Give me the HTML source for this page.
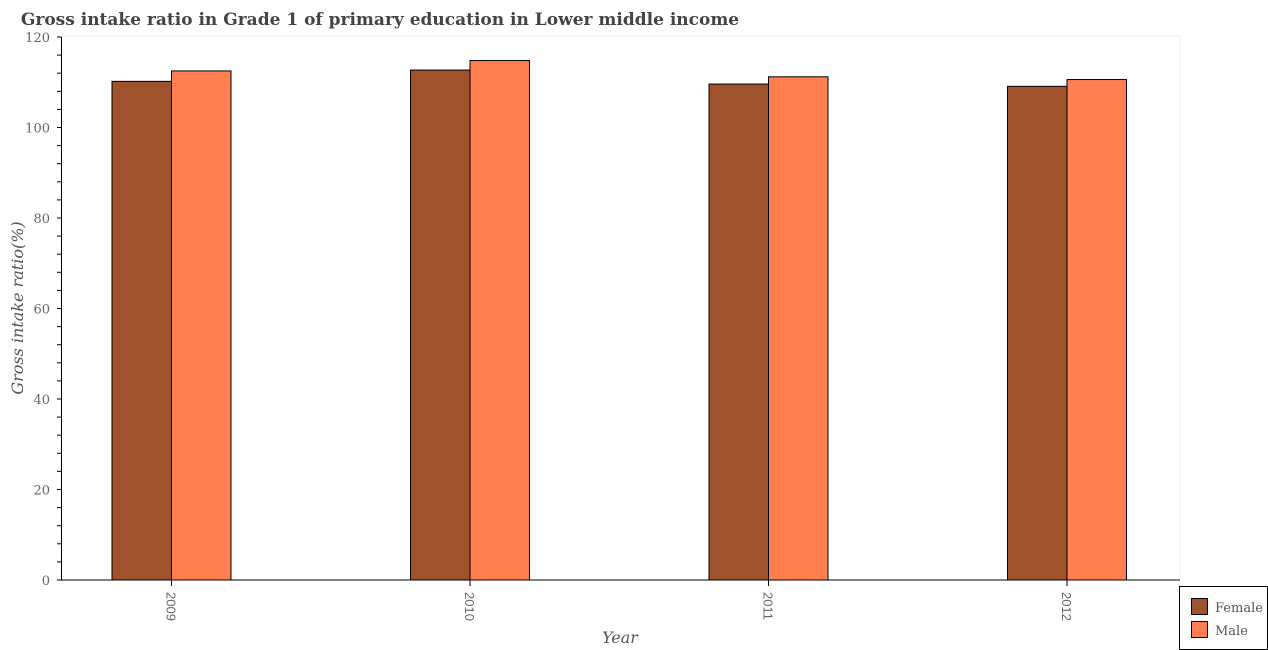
<!DOCTYPE html>
<html><head><meta charset="utf-8"><style>
body{margin:0;background:#fff;}
svg{display:block;font-family:"DejaVu Serif","Liberation Serif",serif;}
</style></head><body>
<svg id="c" width="1268" height="650">
<text x="380" y="25" text-anchor="middle" font-size="17" font-weight="bold" fill="#444">Gross intake ratio in Grade 1 of primary education in Lower middle income</text>
<rect x="61.5" y="36" width="1118.5" height="544" fill="none" stroke="#eee"/>
<g id="bars"></g>
<g id="axes"></g>
<text transform="translate(23,308) rotate(-90)" text-anchor="middle" font-size="16" font-style="italic" fill="#555">Gross intake ratio(%)</text>
<text x="620" y="643" text-anchor="middle" font-size="16" font-style="italic" fill="#555">Year</text>
<g>
<rect x="1179.5" y="586.5" width="88" height="63" fill="#fff" stroke="#000"/>
<rect x="1191.5" y="598.5" width="16" height="16" fill="#a0522d" stroke="#000"/>
<text x="1215" y="612" font-size="13" fill="#555">Female</text>
<rect x="1191.5" y="621.5" width="16" height="16" fill="#ff7f50" stroke="#000"/>
<text x="1215" y="635" font-size="13" fill="#555">Male</text>
</g>
</svg>
<script>
const years=["2009","2010","2011","2012"];
const female=[110.2,112.7,109.6,109.1];
const male=[112.5,114.8,111.2,110.6];
const yTicks=[0,20,40,60,80,100,120];
const NS="http://www.w3.org/2000/svg";
const y0=580,yTop=37,yMax=120;
function ys(v){return y0-(v/yMax)*(y0-yTop);}
function xc(i){return 171.5+i*298.5;}
const bw=59.5;
function mk(t,a,p){const e=document.createElementNS(NS,t);for(const k in a)e.setAttribute(k,a[k]);p.appendChild(e);return e;}
const bars=document.getElementById('bars'),axes=document.getElementById('axes');
years.forEach((yr,i)=>{
  const f=mk('rect',{x:xc(i)-bw,y:ys(female[i]),width:bw,height:y0-ys(female[i]),fill:'#a0522d',stroke:'#000'},bars);
  
  
  const m=mk('rect',{x:xc(i),y:ys(male[i]),width:bw,height:y0-ys(male[i]),fill:'#ff7f50',stroke:'#000'},bars);
  
  
  mk('line',{x1:xc(i),x2:xc(i),y1:y0,y2:y0+6,stroke:'#000'},axes);
  const t=mk('text',{transform:`translate(${xc(i)-5},${y0+12}) rotate(90)`,'font-size':'13',fill:'#666','font-family':'Liberation Sans, sans-serif'},axes);
  t.textContent=yr;
  
  
});
mk('line',{x1:61.5,x2:61.5,y1:yTop,y2:y0,stroke:'#000'},axes);
mk('line',{x1:61.5,x2:1180,y1:y0,y2:y0,stroke:'#000'},axes);
for(let v=0;v<=yMax;v+=4){mk('line',{x1:57,x2:61.5,y1:ys(v),y2:ys(v),stroke:'#000'},axes);}
yTicks.forEach(v=>{
  const t=mk('text',{x:50,y:ys(v)+5,'text-anchor':'end','font-size':'13',fill:'#666'},axes);
  t.textContent=v;
  
  
});
</script>
</body></html>
